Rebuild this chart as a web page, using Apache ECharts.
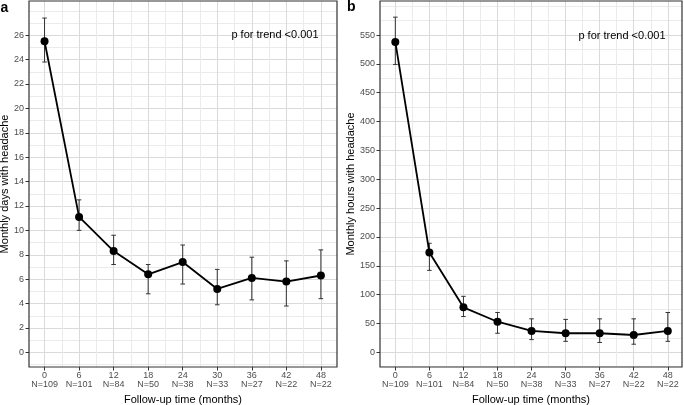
<!DOCTYPE html>
<html>
<head>
<meta charset="utf-8">
<script src="https://cdn.jsdelivr.net/npm/echarts@6/dist/echarts.min.js"></script>
<style>
html,body{margin:0;padding:0;background:#fff;}
#chart{width:684px;height:405px;}
</style>
</head>
<body>
<div id="chart"></div>
<script>
// ---- data ----
const months = [0, 6, 12, 18, 24, 30, 36, 42, 48];
const nLabels = ['N=109', 'N=101', 'N=84', 'N=50', 'N=38', 'N=33', 'N=27', 'N=22', 'N=22'];

const daysMean = [25.5, 11.1, 8.3, 6.4, 7.4, 5.2, 6.1, 5.8, 6.3];
const daysLow  = [23.8, 10.0, 7.2, 4.8, 5.6, 3.9, 4.3, 3.8, 4.4];
const daysHigh = [27.4, 12.5, 9.6, 7.2, 8.8, 6.8, 7.8, 7.5, 8.4];

const hoursMean = [538, 173, 78, 53, 37, 33, 33, 30, 37];
const hoursLow  = [499, 142, 62, 33, 22, 19, 17, 14, 19];
const hoursHigh = [581, 189, 97, 69, 58, 57, 58, 58, 69];

const daysTicks = [0, 2, 4, 6, 8, 10, 12, 14, 16, 18, 20, 22, 24, 26];
const daysMinor = [-1, 1, 3, 5, 7, 9, 11, 13, 15, 17, 19, 21, 23, 25, 27, 28];
const hoursTicks = [0, 50, 100, 150, 200, 250, 300, 350, 400, 450, 500, 550];
const hoursMinor = [-25, 25, 75, 125, 175, 225, 275, 325, 375, 425, 475, 525, 575, 600];
const monthMinor = [3, 9, 15, 21, 27, 33, 39, 45];

const pText = 'p for trend <0.001';

// ---- style ----
const FONT = 'Liberation Sans, Arial, sans-serif';
const MAJOR = '#dadada';
const MINOR = '#ebebeb';

const chart = echarts.init(document.getElementById('chart'), null, {renderer: 'canvas'});

function xMajor(gi, min, max) {
  return {
    gridIndex: gi, type: 'value', min: min, max: max, position: 'bottom',
    axisLine: {show: false, onZero: false},
    axisTick: {show: true, length: 3.5, customValues: months, lineStyle: {color: '#333', width: 1}},
    axisLabel: {
      customValues: months, margin: 4, color: '#4d4d4d', fontSize: 9, fontFamily: FONT,
      lineHeight: 9,
      formatter: function (v) { const i = months.indexOf(v); return i < 0 ? '' : months[i] + '\n' + nLabels[i]; }
    },
    splitLine: {show: true, lineStyle: {color: MAJOR, width: 1}},
    name: 'Follow-up time (months)', nameLocation: 'middle', nameGap: 27,
    nameTextStyle: {color: '#000', fontSize: 11, fontFamily: FONT}
  };
}
function xMinor(gi, min, max) {
  return {
    gridIndex: gi, type: 'value', min: min, max: max, position: 'bottom',
    axisLine: {show: false, onZero: false},
    axisTick: {show: false, customValues: monthMinor},
    axisLabel: {show: false, customValues: monthMinor},
    splitLine: {show: true, lineStyle: {color: MINOR, width: 1}}
  };
}
function yMajor(gi, min, max, ticks, name, gap) {
  return {
    gridIndex: gi, type: 'value', min: min, max: max, position: 'left',
    axisLine: {show: false, onZero: false},
    axisTick: {show: true, length: 3.5, customValues: ticks, lineStyle: {color: '#333', width: 1}},
    axisLabel: {customValues: ticks, margin: 5, color: '#4d4d4d', fontSize: 9, fontFamily: FONT},
    splitLine: {show: true, lineStyle: {color: MAJOR, width: 1}},
    name: name, nameLocation: 'middle', nameGap: gap,
    nameTextStyle: {color: '#000', fontSize: 11, fontFamily: FONT}
  };
}
function yMinor(gi, min, max, ticks) {
  return {
    gridIndex: gi, type: 'value', min: min, max: max, position: 'left',
    axisLine: {show: false, onZero: false},
    axisTick: {show: false, customValues: ticks},
    axisLabel: {show: false, customValues: ticks},
    splitLine: {show: true, lineStyle: {color: MINOR, width: 1}}
  };
}

function errSeries(xi, yi, lo, hi) {
  return {
    type: 'custom', xAxisIndex: xi, yAxisIndex: yi, z: 3,
    data: months.map((m, i) => [m, lo[i], hi[i]]),
    encode: {x: 0, y: [1, 2]},
    renderItem: function (params, api) {
      const x = api.value(0);
      const pLo = api.coord([x, api.value(1)]);
      const pHi = api.coord([x, api.value(2)]);
      const half = api.size([0.8, 0])[0] / 2;
      const st = {stroke: '#333', lineWidth: 1};
      return {
        type: 'group',
        children: [
          {type: 'line', shape: {x1: pLo[0], y1: pLo[1], x2: pHi[0], y2: pHi[1]}, style: st},
          {type: 'line', shape: {x1: pHi[0] - half, y1: pHi[1], x2: pHi[0] + half, y2: pHi[1]}, style: st},
          {type: 'line', shape: {x1: pLo[0] - half, y1: pLo[1], x2: pLo[0] + half, y2: pLo[1]}, style: st}
        ]
      };
    }
  };
}
function lineSeries(xi, yi, vals) {
  return {
    type: 'line', xAxisIndex: xi, yAxisIndex: yi, z: 4,
    data: months.map((m, i) => [m, vals[i]]),
    symbol: 'circle', symbolSize: 8,
    itemStyle: {color: '#000'},
    lineStyle: {color: '#000', width: 1.8},
    animation: false
  };
}

const option = {
  animation: false,
  backgroundColor: '#fff',
  grid: [
    {left: 29, top: 1, width: 308, height: 366, outerBoundsMode: 'none', containLabel: false, show: true, borderColor: '#333', borderWidth: 1.2, backgroundColor: 'transparent', z: 5},
    {left: 380, top: 1, width: 302, height: 366, outerBoundsMode: 'none', containLabel: false, show: true, borderColor: '#333', borderWidth: 1.2, backgroundColor: 'transparent', z: 5}
  ],
  xAxis: [
    xMinor(0, -2.7, 50.8),
    xMajor(0, -2.7, 50.8),
    xMinor(1, -2.7, 50.5),
    xMajor(1, -2.7, 50.5)
  ],
  yAxis: [
    yMinor(0, -1.2, 28.8, daysMinor),
    yMajor(0, -1.2, 28.8, daysTicks, 'Monthly days with headache', 15),
    yMinor(1, -25.5, 609, hoursMinor),
    yMajor(1, -25.5, 609, hoursTicks, 'Monthly hours with headache', 20)
  ],
  series: [
    errSeries(1, 1, daysLow, daysHigh),
    lineSeries(1, 1, daysMean),
    errSeries(3, 3, hoursLow, hoursHigh),
    lineSeries(3, 3, hoursMean)
  ],
  graphic: [
    {type: 'text', z: 100, left: 0.5, top: 1, style: {text: 'a', font: 'bold 14px ' + FONT, fill: '#000'}},
    {type: 'text', z: 100, left: 347, top: 0, style: {text: 'b', font: 'bold 14px ' + FONT, fill: '#000'}},
    {type: 'text', z: 100, x: 275, y: 35, style: {text: pText, font: '11px ' + FONT, fill: '#000', align: 'center', verticalAlign: 'middle'}},
    {type: 'text', z: 100, x: 622, y: 36, style: {text: pText, font: '11px ' + FONT, fill: '#000', align: 'center', verticalAlign: 'middle'}}
  ]
};
chart.setOption(option);
</script>
</body>
</html>
